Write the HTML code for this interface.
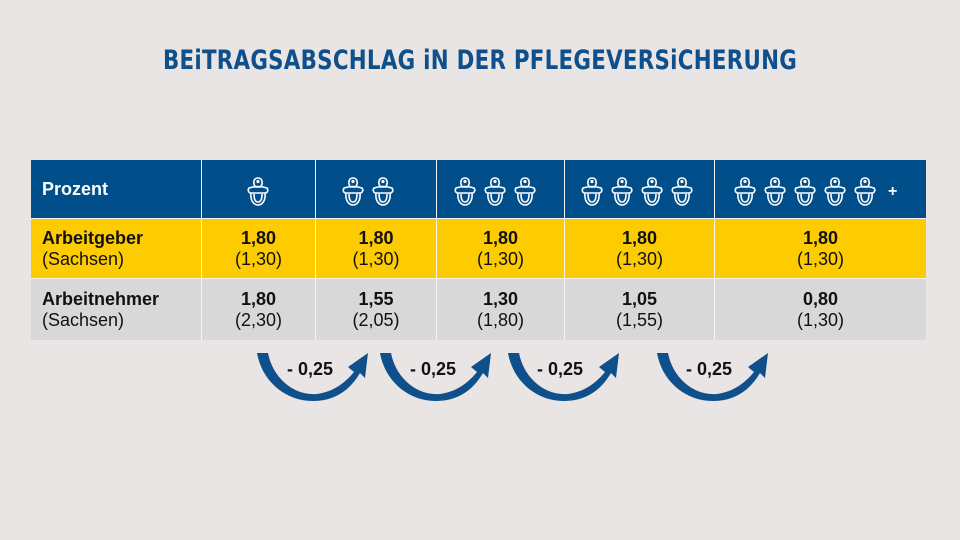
<!DOCTYPE html>
<html><head><meta charset="utf-8"><style>
body{margin:0;width:960px;height:540px;background:#e8e5e4;position:relative;overflow:hidden;font-family:"Liberation Sans","DejaVu Sans",sans-serif}
.t{position:absolute;left:0;top:45px;width:960px;text-align:center;color:#0f4f8c;font-family:"DejaVu Sans Condensed","Liberation Sans Narrow","Liberation Sans",sans-serif;font-weight:bold;font-size:27px;letter-spacing:0.3px;transform:scaleX(0.88)}
.bg{position:absolute;left:31px;top:160px;width:895px;height:180px;background:#f4f4f4}
.c{position:absolute;box-sizing:border-box;display:flex;flex-direction:column;justify-content:center;align-items:center;font-size:18px;line-height:21px;color:#111}
.h{background:#004f8a;color:#fff;top:160px;height:58px}
.y{background:#fccb00;top:219px;height:59px}
.g{background:#d9d8d8;top:279px;height:61px}
.l{align-items:flex-start;padding-left:11px}
b{font-weight:bold}
.lab{position:absolute;font-weight:bold;font-size:18px;color:#111}
</style></head><body>
<div class="t">BEiTRAGSABSCHLAG iN DER PFLEGEVERSiCHERUNG</div>
<div class="bg"></div>
<svg width="0" height="0" style="position:absolute"><defs>
<g id="p" fill="none" stroke="#fff" stroke-width="1.6"><path d="M9.5 11 C7 8 7 2 12 2 C17 2 17 8 14.5 11 Z"/><circle cx="12" cy="5.5" r="0.8" fill="#fff"/><path d="M3 12 Q12 9 21 12 Q23 15 20 17 L4 17 Q1 15 3 12 Z"/><path d="M5 17 C4 26 9 29 12 29 C15 29 20 26 19 17"/><path d="M8 18 C8 24 10 26 12 26 C14 26 16 24 16 18"/></g>
<path id="a" fill="#0f4f8c" d="M0 0 L11 0 C16 26 38 43 60 41 C76 39 88 30 97 19 L91 14 L111 0 L108 25 L103 20 C93 37 78 48 56 48 C28 48 5 28 0 0 Z"/>
</defs></svg>
<div class="c h l" style="left:31px;width:170px"><b>Prozent</b></div>
<div class="c h" style="left:202px;width:113px"></div>
<div class="c h" style="left:316px;width:120px"></div>
<div class="c h" style="left:437px;width:127px"></div>
<div class="c h" style="left:565px;width:149px"></div>
<div class="c h" style="left:715px;width:211px"></div>
<svg style="position:absolute;left:0;top:0" width="960" height="540">
<use href="#p" x="246" y="176"/>
<use href="#p" x="341" y="176"/><use href="#p" x="371" y="176"/>
<use href="#p" x="453" y="176"/><use href="#p" x="483" y="176"/><use href="#p" x="513" y="176"/>
<use href="#p" x="580" y="176"/><use href="#p" x="610" y="176"/><use href="#p" x="640" y="176"/><use href="#p" x="670" y="176"/>
<use href="#p" x="733" y="176"/><use href="#p" x="763" y="176"/><use href="#p" x="793" y="176"/><use href="#p" x="823" y="176"/><use href="#p" x="853" y="176"/>
<text x="888" y="196" fill="#fff" font-size="16" font-weight="bold" font-family="Liberation Sans">+</text>
<use href="#a" x="257" y="353"/><use href="#a" x="380" y="353"/><use href="#a" x="508" y="353"/><use href="#a" x="657" y="353"/>
</svg>
<div class="c y l" style="left:31px;width:170px"><b>Arbeitgeber</b><span>(Sachsen)</span></div>
<div class="c y" style="left:202px;width:113px"><b>1,80</b><span>(1,30)</span></div>
<div class="c y" style="left:316px;width:120px"><b>1,80</b><span>(1,30)</span></div>
<div class="c y" style="left:437px;width:127px"><b>1,80</b><span>(1,30)</span></div>
<div class="c y" style="left:565px;width:149px"><b>1,80</b><span>(1,30)</span></div>
<div class="c y" style="left:715px;width:211px"><b>1,80</b><span>(1,30)</span></div>
<div class="c g l" style="left:31px;width:170px"><b>Arbeitnehmer</b><span>(Sachsen)</span></div>
<div class="c g" style="left:202px;width:113px"><b>1,80</b><span>(2,30)</span></div>
<div class="c g" style="left:316px;width:120px"><b>1,55</b><span>(2,05)</span></div>
<div class="c g" style="left:437px;width:127px"><b>1,30</b><span>(1,80)</span></div>
<div class="c g" style="left:565px;width:149px"><b>1,05</b><span>(1,55)</span></div>
<div class="c g" style="left:715px;width:211px"><b>0,80</b><span>(1,30)</span></div>
<div class="lab" style="left:287px;top:359px">- 0,25</div>
<div class="lab" style="left:410px;top:359px">- 0,25</div>
<div class="lab" style="left:537px;top:359px">- 0,25</div>
<div class="lab" style="left:686px;top:359px">- 0,25</div>
</body></html>
